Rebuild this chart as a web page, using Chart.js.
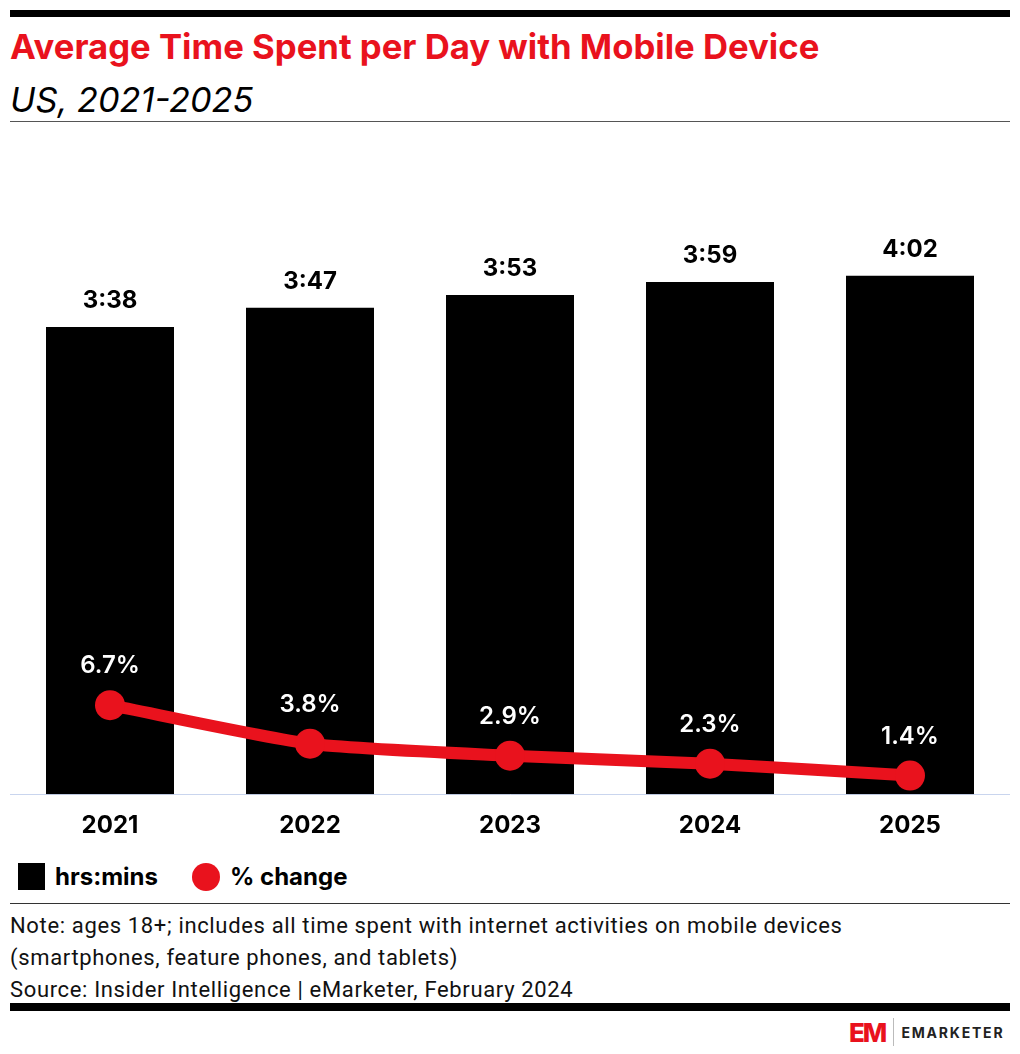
<!DOCTYPE html>
<html>
<head>
<meta charset="utf-8">
<script src="https://cdn.jsdelivr.net/npm/chart.js@4.4.1/dist/chart.umd.min.js"></script>
<style>
    body { margin: 0; background: #fff; font-family: 'Inter', sans-serif; }
    #page { position: relative; width: 1020px; height: 1054px; overflow: hidden; }
    .abs { position: absolute; }
    #topbar { left: 10px; top: 10px; width: 1000px; height: 7px; background: #000; }
    #title { left: 10px; top: 25px; font-size: 34.7px; font-weight: 700; color: #e9121d; white-space: nowrap; }
    #subtitle { left: 10px; top: 79px; font-size: 34.3px; font-style: italic; color: #000; white-space: nowrap; }
    #rule1 { left: 10px; top: 121px; width: 1000px; height: 1px; background: #555; }
    #chart-wrap { left: 10px; top: 130px; width: 1000px; height: 727px; }
    #legend { left: 18px; top: 862px; display: flex; align-items: center; font-size: 24px; font-weight: 700; }
    .swatch-bar { width: 27px; height: 27px; background: #000; margin-right: 10px; }
    .swatch-dot { width: 28px; height: 28px; border-radius: 50%; background: #e9121d; margin: 0 10px 0 34px; }
    #rule2 { left: 10px; top: 903px; width: 1000px; height: 1px; background: #333; }
    #note { left: 10px; top: 910px; font-size: 22px; line-height: 32px; letter-spacing: 0.65px; color: #111; font-family: 'Roboto', sans-serif; }
    #bottombar { left: 10px; top: 1003px; width: 1000px; height: 8px; background: #000; }
    #logo { left: 849px; top: 1018px; display: flex; align-items: center; height: 28px; }
    #logo .em { font-size: 26px; font-weight: 800; color: #e9121d; letter-spacing: -2px; }
    #logo .sep { width: 1px; height: 28px; background: #bbb; margin: 0 7px 0 8px; }
    #logo .name { font-size: 14px; font-weight: 700; color: #222; letter-spacing: 1.8px; }
</style>
</head>
<body>
<div id="page">
    <div id="topbar" class="abs"></div>
    <div id="title" class="abs">Average Time Spent per Day with Mobile Device</div>
    <div id="subtitle" class="abs">US, 2021-2025</div>
    <div id="rule1" class="abs"></div>
    <div id="chart-wrap" class="abs"><canvas id="chart"></canvas></div>
    <div id="legend" class="abs">
        <div class="swatch-bar"></div><span>hrs:mins</span>
        <div class="swatch-dot"></div><span>% change</span>
    </div>
    <div id="rule2" class="abs"></div>
    <div id="note" class="abs">
        Note: ages 18+; includes all time spent with internet activities on mobile devices<br>
        (smartphones, feature phones, and tablets)<br>
        Source: Insider Intelligence | eMarketer, February 2024
    </div>
    <div id="bottombar" class="abs"></div>
    <div id="logo" class="abs"><span class="em">EM</span><div class="sep"></div><span class="name">EMARKETER</span></div>
</div>
<script>
// Chart data
const years = ['2021', '2022', '2023', '2024', '2025'];
const minutesPerDay = [218, 227, 233, 239, 242];   // 3:38, 3:47, 3:53, 3:59, 4:02
const pctChange = [6.7, 3.8, 2.9, 2.3, 1.4];

const RED = '#e9121d';

// minutes -> "h:mm"
function toHrsMins(m) {
    const h = Math.floor(m / 60);
    const mm = m % 60;
    return h + ':' + (mm < 10 ? '0' + mm : mm);
}

// Draw value labels above bars and points
const valueLabels = {
    id: 'valueLabels',
    afterDatasetsDraw(chart) {
        const ctx = chart.ctx;
        ctx.save();
        ctx.textAlign = 'center';
        ctx.textBaseline = 'middle';
        ctx.font = '700 24px Inter';

        chart.getDatasetMeta(1).data.forEach((bar, i) => {
            ctx.fillStyle = '#000';
            ctx.fillText(toHrsMins(minutesPerDay[i]), bar.x, bar.y - 26);
        });

        ctx.font = '600 24px Inter';
        chart.getDatasetMeta(0).data.forEach((pt, i) => {
            ctx.fillStyle = '#fff';
            ctx.fillText(pctChange[i].toFixed(1) + '%', pt.x, pt.y - 39);
        });
        ctx.restore();
    }
};

const chart = new Chart(document.getElementById('chart'), {
    data: {
        labels: years,
        datasets: [{
            type: 'line',
            label: '% change',
            data: pctChange,
            yAxisID: 'y1',
            borderColor: RED,
            backgroundColor: RED,
            borderWidth: 12,
            pointRadius: 15,
            pointHoverRadius: 15,
            pointBackgroundColor: RED,
            pointBorderWidth: 0,
            tension: 0.2,
            clip: false,
            order: 0
        }, {
            type: 'bar',
            label: 'hrs:mins',
            data: minutesPerDay,
            yAxisID: 'y',
            backgroundColor: '#000',
            barPercentage: 0.64,
            categoryPercentage: 1,
            order: 1
        }]
    },
    options: {
        responsive: true,
        maintainAspectRatio: false,
        animation: false,
        layout: { padding: 0, autoPadding: false },
        plugins: {
            legend: { display: false },
            tooltip: { enabled: false }
        },
        scales: {
            x: {
                grid: { display: false, drawTicks: false },
                border: { display: true, color: '#c9d5ee', width: 1 },
                ticks: {
                    color: '#000',
                    padding: 17,
                    font: { family: 'Inter', size: 24, weight: '700' }
                }
            },
            y: {
                display: false,
                min: 0,
                max: 310
            },
            y1: {
                display: false,
                min: 0,
                max: 50
            }
        }
    },
    plugins: [valueLabels]
});
</script>
</body>
</html>
